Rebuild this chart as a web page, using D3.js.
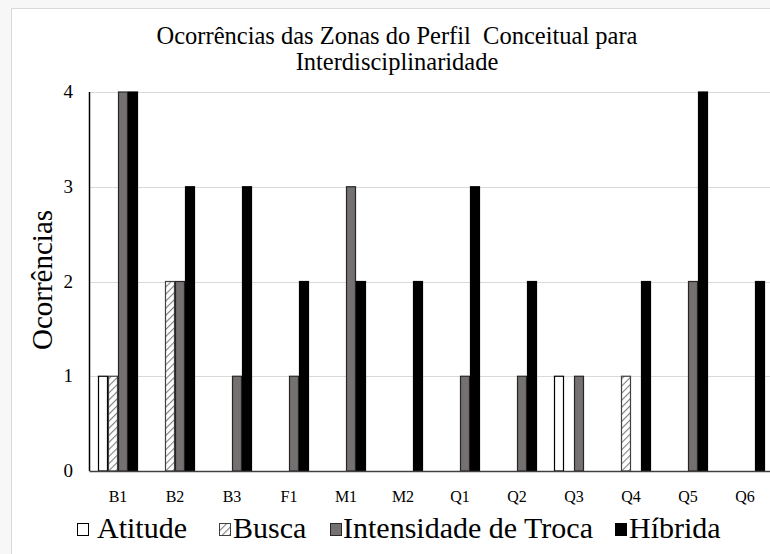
<!DOCTYPE html>
<html>
<head>
<meta charset="utf-8">
<script src="https://cdn.jsdelivr.net/npm/d3@7"></script>
<style>
  html, body { margin: 0; padding: 0; background: #f7f7f7; }
  svg { display: block; }
  svg text { font-family: "Liberation Serif", "DejaVu Serif", serif; fill: #000; white-space: pre; }
</style>
</head>
<body>
<svg id="chart" width="770" height="554" font-family="Liberation Serif, serif"></svg>
<script>
const categories = ["B1","B2","B3","F1","M1","M2","Q1","Q2","Q3","Q4","Q5","Q6"];
const seriesNames = ["Atitude","Busca","Intensidade de Troca","Híbrida"];
const atitude    = [1,0,0,0,0,0,0,0,1,0,0,0];
const busca      = [1,2,0,0,0,0,0,0,0,1,0,0];
const intensidade= [4,2,1,1,3,0,1,1,1,0,2,0];
const hibrida    = [4,3,3,2,2,2,3,2,0,2,4,2];
const yTicks = [0,1,2,3,4];
const titleLines = ["Ocorrências das Zonas do Perfil  Conceitual para","Interdisciplinaridade"];
const yTitle = "Ocorrências";

(function(){
const seriesValues = [atitude, busca, intensidade, hibrida];
const svg = d3.select("#chart");

// hatch pattern
const defs = svg.append("defs");
const pat = defs.append("pattern").attr("id","hatch").attr("patternUnits","userSpaceOnUse")
  .attr("width",5).attr("height",5).attr("patternTransform","rotate(45)");
pat.append("rect").attr("width",5).attr("height",5).attr("fill","#fff");
pat.append("line").attr("x1",0).attr("y1",0).attr("x2",0).attr("y2",5)
  .attr("stroke","#7f7f7f").attr("stroke-width",2.2);

const styles = [
  {fill:"#ffffff", stroke:"#000"},
  {fill:"url(#hatch)", stroke:"#404040"},
  {fill:"#767171", stroke:"#262626"},
  {fill:"#000000", stroke:"#000"}
];

// chart frame
svg.append("rect").attr("x",11.5).attr("y",8.5).attr("width",800).attr("height",600)
  .attr("fill","#fff").attr("stroke","#d9d9d9").attr("stroke-width",1);

const pLeft = 89.5, pRight = 773.5, pTop = 92, pBottom = 471;
const x = d3.scaleBand().domain(categories).range([pLeft,pRight]).paddingInner(0).paddingOuter(0);
const y = d3.scaleLinear().domain([0,4]).range([pBottom, pTop]);
const barW = 10;
const xs = d3.scaleBand().domain(d3.range(4)).range([0, barW*4]);

// grid
svg.append("g").selectAll("line").data(yTicks.filter(t=>t>0)).join("line")
  .attr("x1",pLeft).attr("x2",770).attr("y1",d=>Math.round(y(d))+0.5).attr("y2",d=>Math.round(y(d))+0.5)
  .attr("stroke","#d9d9d9").attr("stroke-width",1.2);

// bars
const groups = svg.append("g").selectAll("g").data(categories).join("g")
  .attr("transform", c => `translate(${x(c) + (x.bandwidth()-barW*4)/2},0)`);
groups.each(function(c, ci){
  d3.select(this).selectAll("rect").data(seriesValues.map((s,si)=>({si, v:s[ci]})).filter(d=>d.v>0))
    .join("rect")
    .attr("x", d => xs(d.si)+0.5)
    .attr("width", barW-1)
    .attr("y", d => y(d.v))
    .attr("height", d => y(0)-y(d.v))
    .attr("fill", d => styles[d.si].fill)
    .attr("stroke", d => styles[d.si].stroke)
    .attr("stroke-width", 1.2);
});

// axes lines
svg.append("line").attr("x1",pLeft).attr("x2",pLeft).attr("y1",pTop).attr("y2",pBottom)
  .attr("stroke","#000").attr("stroke-width",1.5);
svg.append("line").attr("x1",pLeft).attr("x2",770).attr("y1",pBottom+0.5).attr("y2",pBottom+0.5)
  .attr("stroke","#404040").attr("stroke-width",1.5);

const FF = "Liberation Serif";
// y tick labels
svg.append("g").selectAll("text").data(yTicks).join("text")
  .attr("font-family",FF)
  .attr("x", 73).attr("y", d => y(d)+6)
  .attr("text-anchor","end").attr("font-size",19).text(d=>d);

// x tick labels
svg.append("g").selectAll("text").data(categories).join("text")
  .attr("font-family",FF)
  .attr("x", d => x(d)+x.bandwidth()/2).attr("y", 502)
  .attr("text-anchor","middle").attr("font-size",16).text(d=>d);

// title
svg.append("g").selectAll("text").data(titleLines).join("text")
  .attr("font-family",FF)
  .attr("x", 397).attr("y",(d,i)=>44+i*26)
  .attr("text-anchor","middle").attr("font-size",24.5).text(d=>d);

// y title
svg.append("text").attr("font-family",FF).attr("transform","translate(52,280) rotate(-90)")
  .attr("text-anchor","middle").attr("font-size",29).text(yTitle);

// legend
const legendSq = [77, 219, 330, 615];
const legendTx = [97, 233, 343, 629];
const lg = svg.append("g");
seriesNames.forEach((name,i)=>{
  lg.append("rect").attr("x",legendSq[i]+0.5).attr("y",523.5).attr("width",11).attr("height",12)
    .attr("fill",styles[i].fill).attr("stroke",styles[i].stroke).attr("stroke-width",1);
  lg.append("text").attr("font-family",FF).attr("x",legendTx[i]).attr("y",538).attr("font-size",30).text(name);
});
})();
</script>
</body>
</html>
